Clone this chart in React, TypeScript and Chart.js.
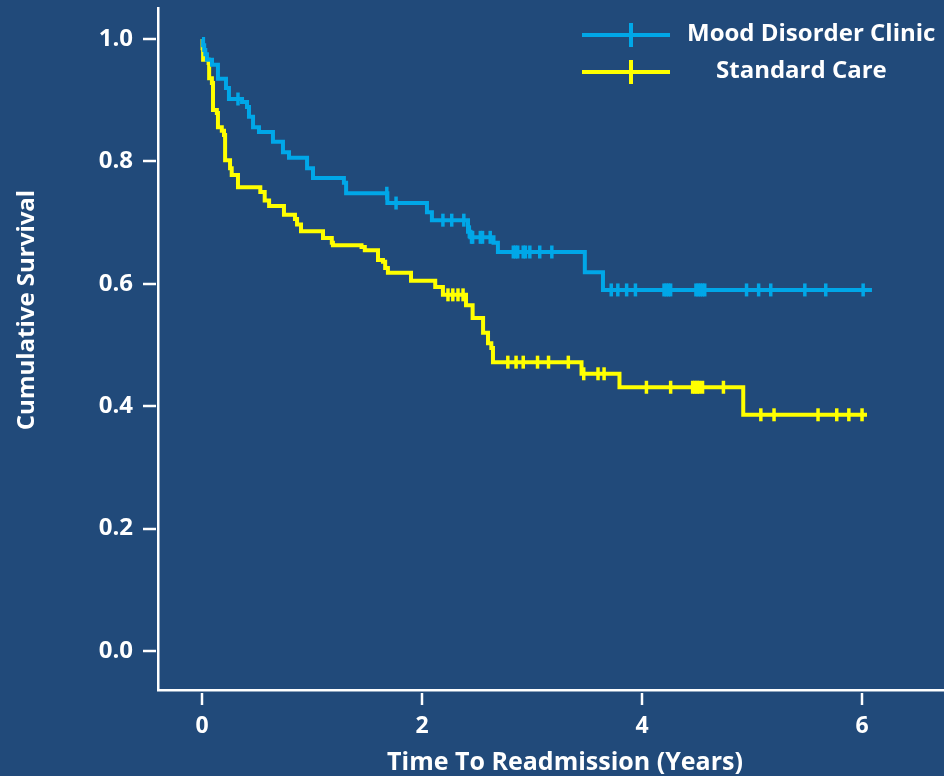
import React, { useEffect, useRef } from "react";
import { Chart, registerables } from "chart.js";

Chart.register(...registerables);

const BG = "#214a7a";
const BLUE = "#00a7e8";
const YELLOW = "#ffff00";
const FONT = "'Open Sans'";

const seriesLabels = ["Mood Disorder Clinic", "Standard Care"];
const xTitle = "Time To Readmission (Years)";
const yTitle = "Cumulative Survival";
const xTickValues = [0, 2, 4, 6];
const yTickValues = [0, 0.2, 0.4, 0.6, 0.8, 1.0];

// Mood Disorder Clinic (Kaplan-Meier steps)
const clinicTimes = [
  0, 0.01, 0.02, 0.03, 0.045, 0.091, 0.145, 0.218, 0.245, 0.364, 0.409, 0.427,
  0.464, 0.518, 0.645, 0.736, 0.791, 0.955, 1.009, 1.29, 1.31, 1.685, 2.045,
  2.09, 2.418, 2.44, 2.65, 2.69, 3.48, 3.645, 6.09,
];
const clinicSurvival = [
  1.0, 0.99, 0.982, 0.975, 0.966, 0.958, 0.935, 0.92, 0.902, 0.897, 0.889, 0.873,
  0.856, 0.848, 0.832, 0.815, 0.806, 0.789, 0.773, 0.765, 0.748, 0.732, 0.717,
  0.704, 0.685, 0.676, 0.667, 0.652, 0.619, 0.59, 0.59,
];
const clinicCensored = [
  0.327, 1.68, 1.764, 2.19, 2.27, 2.38, 2.43, 2.45, 2.46, 2.53, 2.55, 2.62,
  2.83, 2.85, 2.87, 2.92, 2.94, 2.98, 3.07, 3.18, 3.72, 3.78, 3.86, 3.94,
  4.2, 4.22, 4.24, 4.26, 4.49, 4.51, 4.53, 4.55, 4.57, 4.95, 5.06, 5.17, 5.48,
  5.67, 6.01,
];

// Standard Care (Kaplan-Meier steps)
const careTimes = [
  0, 0.005, 0.01, 0.06, 0.065, 0.09, 0.1, 0.135, 0.145, 0.18, 0.2, 0.21, 0.255,
  0.27, 0.327, 0.53, 0.57, 0.61, 0.745, 0.845, 0.864, 0.9, 1.1, 1.18, 1.19,
  1.45, 1.48, 1.6, 1.645, 1.665, 1.69, 1.9, 2.12, 2.19, 2.4, 2.46, 2.555, 2.6,
  2.63, 2.645, 3.45, 3.795, 4.92, 6.045,
];
const careSurvival = [
  1.0, 0.985, 0.966, 0.961, 0.936, 0.928, 0.884, 0.879, 0.856, 0.85, 0.843,
  0.802, 0.789, 0.778, 0.758, 0.75, 0.736, 0.727, 0.713, 0.706, 0.697, 0.686,
  0.675, 0.667, 0.663, 0.66, 0.655, 0.639, 0.636, 0.626, 0.618, 0.605, 0.595,
  0.582, 0.565, 0.544, 0.52, 0.503, 0.495, 0.472, 0.453, 0.431, 0.386, 0.386,
];
const careCensored = [
  2.236, 2.28, 2.327, 2.373, 2.78, 2.855, 2.92, 3.05, 3.15, 3.33, 3.47, 3.6,
  3.655, 4.04, 4.26, 4.46, 4.48, 4.5, 4.52, 4.55, 4.74, 5.08, 5.2, 5.6, 5.77,
  5.88, 6.0,
];

function survivalAt(times: number[], surv: number[], t: number): number {
  let s = surv[0];
  for (let i = 0; i < times.length; i++) {
    if (times[i] <= t) s = surv[i];
  }
  return s;
}

const stepData = (times: number[], surv: number[]) =>
  times.map((t, i) => ({ x: t, y: surv[i] }));
const censorData = (c: number[], times: number[], surv: number[]) =>
  c.map((t) => ({ x: t, y: survivalAt(times, surv, t) }));

const decorPlugin = {
  id: "decor",
  beforeDraw(chart: any) {
    const ctx = chart.ctx;
    ctx.save();
    ctx.fillStyle = BG;
    ctx.fillRect(0, 0, chart.width, chart.height);
    ctx.restore();
  },
  afterDraw(chart: any) {
    const ctx = chart.ctx;
    const xs = chart.scales.x;
    const ys = chart.scales.y;
    ctx.save();
    ctx.strokeStyle = "#ffffff";
    ctx.lineWidth = 2.5;
    // detached tick marks
    xTickValues.forEach((v) => {
      const px = Math.round(xs.getPixelForValue(v));
      ctx.beginPath();
      ctx.moveTo(px, xs.top + 3);
      ctx.lineTo(px, xs.top + 15);
      ctx.stroke();
    });
    yTickValues.forEach((v) => {
      const py = Math.round(ys.getPixelForValue(v));
      ctx.beginPath();
      ctx.moveTo(ys.right - 15, py);
      ctx.lineTo(ys.right - 2, py);
      ctx.stroke();
    });
    // axis titles
    ctx.fillStyle = "#ffffff";
    ctx.font = `bold 25px ${FONT}`;
    ctx.textAlign = "center";
    ctx.textBaseline = "alphabetic";
    ctx.fillText(xTitle, 565, 770);
    ctx.save();
    ctx.translate(34, 310);
    ctx.rotate(-Math.PI / 2);
    ctx.font = `bold 24px ${FONT}`;
    ctx.fillText(yTitle, 0, 0);
    ctx.restore();
    // legend
    const entries = [
      { color: BLUE, ly: 35, text: seriesLabels[0], tx: 687, ty: 41 },
      { color: YELLOW, ly: 72, text: seriesLabels[1], tx: 716, ty: 78 },
    ];
    entries.forEach((e) => {
      ctx.strokeStyle = e.color;
      ctx.lineWidth = 4;
      ctx.beginPath();
      ctx.moveTo(582, e.ly);
      ctx.lineTo(670, e.ly);
      ctx.moveTo(631, e.ly - 12);
      ctx.lineTo(631, e.ly + 12);
      ctx.stroke();
      ctx.fillStyle = "#ffffff";
      ctx.font = `bold 24px ${FONT}`;
      ctx.textAlign = "left";
      ctx.fillText(e.text, e.tx, e.ty);
    });
    ctx.restore();
  },
};

export default function App() {
  const ref = useRef<HTMLCanvasElement | null>(null);
  useEffect(() => {
    document.body.style.margin = "0";
    document.body.style.background = BG;
    const canvas = ref.current;
    if (!canvas) return;
    const lineCommon = {
      borderWidth: 4,
      pointRadius: 0,
      fill: false,
      tension: 0,
      stepped: "before" as const,
    };
    const censorCommon = {
      showLine: false,
      pointStyle: "line" as const,
      pointRotation: 90,
      pointRadius: 6.5,
      pointBorderWidth: 3.5,
    };
    const clearPad = (s: any) => {
      s.paddingTop = 0;
      s.paddingBottom = 0;
      s.paddingLeft = 0;
      s.paddingRight = 0;
    };
    const chart = new Chart(canvas, {
      type: "line",
      data: {
        datasets: [
          {
            label: seriesLabels[0] + " censored",
            data: censorData(clinicCensored, clinicTimes, clinicSurvival),
            borderColor: BLUE,
            pointBorderColor: BLUE,
            backgroundColor: BLUE,
            ...censorCommon,
          } as any,
          {
            label: seriesLabels[0],
            data: stepData(clinicTimes, clinicSurvival),
            borderColor: BLUE,
            ...lineCommon,
          } as any,
          {
            label: seriesLabels[1] + " censored",
            data: censorData(careCensored, careTimes, careSurvival),
            borderColor: YELLOW,
            pointBorderColor: YELLOW,
            backgroundColor: YELLOW,
            ...censorCommon,
          } as any,
          {
            label: seriesLabels[1],
            data: stepData(careTimes, careSurvival),
            borderColor: YELLOW,
            ...lineCommon,
          } as any,
        ],
      },
      options: {
        responsive: false,
        animation: false,
        events: [],
        layout: { autoPadding: false, padding: { top: 8, left: 0, right: 0, bottom: 0 } },
        plugins: {
          legend: { display: false },
          tooltip: { enabled: false },
        },
        scales: {
          x: {
            type: "linear",
            min: -0.4,
            max: 6.745,
            afterBuildTicks: (s: any) => {
              s.ticks = xTickValues.map((v) => ({ value: v }));
            },
            afterFit: (s: any) => {
              s.height = 86;
              clearPad(s);
            },
            grid: { display: false, drawTicks: false },
            border: { display: true, color: "#ffffff", width: 2.5 },
            ticks: {
              color: "#ffffff",
              font: { family: FONT, size: 23, weight: "bold" },
              padding: 23,
              maxRotation: 0,
              autoSkip: false,
              callback: (v: any) => String(v),
            },
          },
          y: {
            type: "linear",
            min: -0.0637,
            max: 1.0507,
            afterBuildTicks: (s: any) => {
              s.ticks = yTickValues.map((v) => ({ value: v }));
            },
            afterFit: (s: any) => {
              s.width = 158;
              clearPad(s);
            },
            grid: { display: false, drawTicks: false },
            border: { display: true, color: "#ffffff", width: 2.5 },
            ticks: {
              color: "#ffffff",
              font: { family: FONT, size: 24, weight: "bold" },
              padding: 25,
              autoSkip: false,
              callback: (v: any) => Number(v).toFixed(1),
            },
          },
        },
      } as any,
      plugins: [decorPlugin],
    });
    return () => chart.destroy();
  }, []);
  return (
    <div style={{ width: 944, height: 776, background: BG }}>
      <canvas ref={ref} width={944} height={776} style={{ display: "block", width: 944, height: 776 }} />
    </div>
  );
}
